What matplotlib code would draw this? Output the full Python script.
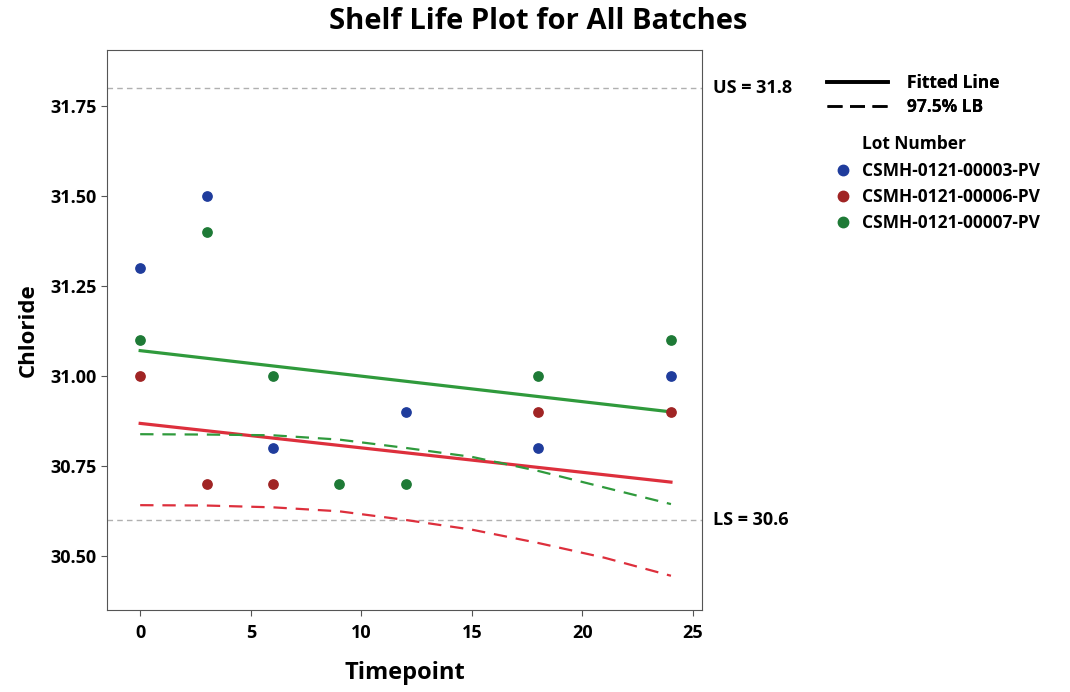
import numpy as np
import matplotlib
matplotlib.use('Agg')
import matplotlib.pyplot as plt
from matplotlib.lines import Line2D

plt.rcParams['font.family'] = ['Open Sans', 'DejaVu Sans']
plt.rcParams['font.weight'] = 'bold'

# data
lots = ['CSMH-0121-00003-PV', 'CSMH-0121-00006-PV', 'CSMH-0121-00007-PV']
t_003 = [0, 3, 6, 12, 18, 24]
y_003 = [31.3, 31.5, 30.8, 30.9, 30.8, 31.0]
t_006 = [0, 3, 6, 18, 24]
y_006 = [31.0, 30.7, 30.7, 30.9, 30.9]
t_007 = [0, 3, 6, 9, 12, 18, 24]
y_007 = [31.1, 31.4, 31.0, 30.7, 30.7, 31.0, 31.1]

fit_t = [0, 24]
fit_006 = [30.868, 30.705]
fit_007 = [31.07, 30.90]

lb_t = [0, 3, 6, 9, 12, 15, 18, 21, 24]
lb_006 = [30.641, 30.640, 30.635, 30.624, 30.600, 30.573, 30.536, 30.495, 30.445]
lb_007 = [30.838, 30.837, 30.835, 30.823, 30.800, 30.775, 30.736, 30.690, 30.644]

upper_spec = 31.8
lower_spec = 30.6

c_blue = '#1f3c9c'
c_red = '#a02424'
c_green = '#1e7a36'
line_red = '#dd2f3c'
line_green = '#2f9a3c'

fig = plt.figure(figsize=(10.7, 6.92), dpi=100)
ax = fig.add_axes([0.1, 0.1185, 0.556, 0.8095])

ax.axhline(upper_spec, color='#b0b0b0', linestyle=(0, (4, 3)), linewidth=1)
ax.axhline(lower_spec, color='#b0b0b0', linestyle=(0, (4, 3)), linewidth=1)

ax.plot(fit_t, fit_007, color=line_green, linewidth=2.3)
ax.plot(fit_t, fit_006, color=line_red, linewidth=2.3)
ax.plot(lb_t, lb_007, color=line_green, linewidth=1.6, linestyle=(0, (6, 4)))
ax.plot(lb_t, lb_006, color=line_red, linewidth=1.6, linestyle=(0, (6, 4)))

ax.scatter(t_003, y_003, s=45, color=c_blue, zorder=5)
ax.scatter(t_006, y_006, s=45, color=c_red, zorder=5)
ax.scatter(t_007, y_007, s=45, color=c_green, zorder=5)

ax.set_xlim(-1.5, 25.4)
ax.set_ylim(30.35, 31.905)
ax.set_xticks([0, 5, 10, 15, 20, 25])
ax.set_yticks([30.50, 30.75, 31.00, 31.25, 31.50, 31.75])
ax.set_yticklabels(['30.50', '30.75', '31.00', '31.25', '31.50', '31.75'])
ax.tick_params(axis='both', labelsize=13, length=4, color='#555555')
ax.tick_params(axis='x', pad=6)
for s in ax.spines.values():
    s.set_color('#555555')

ax.set_xlabel('Timepoint', fontsize=17, fontweight='bold', labelpad=14)
ax.set_ylabel('Chloride', fontsize=16, fontweight='bold', labelpad=8)
fig.suptitle('Shelf Life Plot for All Batches', fontsize=21, fontweight='bold', x=0.503, y=0.99)

tr = ax.get_yaxis_transform()
ax.text(1.018, upper_spec, 'US = 31.8', transform=tr, fontsize=13, va='center', ha='left', clip_on=False)
ax.text(1.018, lower_spec, 'LS = 30.6', transform=tr, fontsize=13, va='center', ha='left', clip_on=False)

line_handles = [Line2D([], [], color='black', linewidth=2.6),
                Line2D([], [], color='black', linewidth=1.8, linestyle=(0, (6, 3)))]
leg1 = fig.legend(line_handles, ['Fitted Line', '97.5% LB'], loc='upper left',
                  bbox_to_anchor=(0.765, 0.905), frameon=False, fontsize=12.5,
                  handlelength=3.5, handletextpad=1.1, labelspacing=0.3, borderpad=0)
fig.add_artist(leg1)

fig.text(0.806, 0.792, 'Lot Number', fontsize=12.5, fontweight='bold', ha='left', va='center')

lot_handles = [Line2D([], [], marker='o', linestyle='none', color=c, markersize=7.5)
               for c in [c_blue, c_red, c_green]]
leg2 = fig.legend(lot_handles, lots, loc='upper left',
                  bbox_to_anchor=(0.772, 0.778), frameon=False, fontsize=12.5,
                  handlelength=1.0, handletextpad=0.6, labelspacing=0.45, borderpad=0)

fig.savefig('out.png', dpi=100)
